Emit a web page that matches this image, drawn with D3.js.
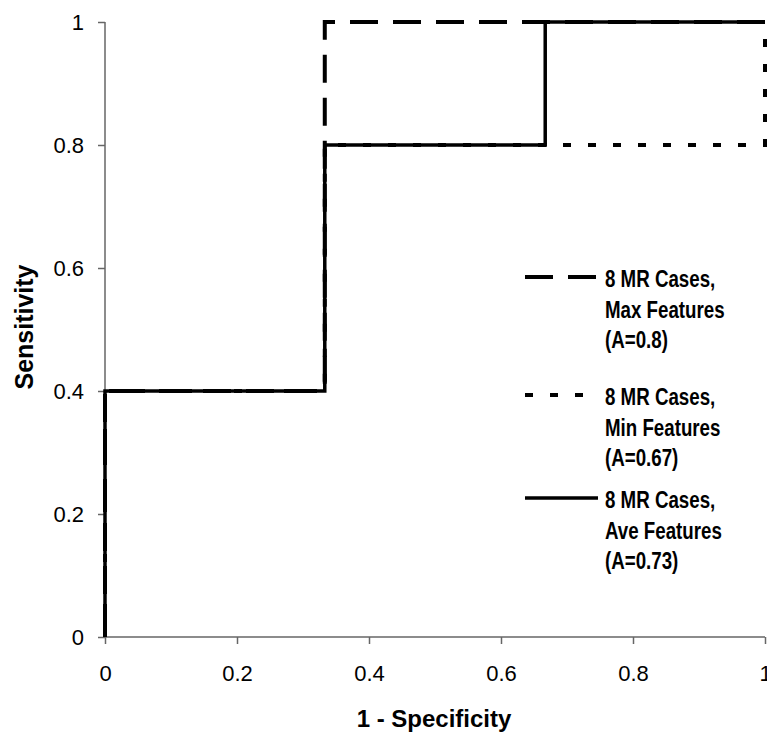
<!doctype html>
<html>
<head>
<meta charset="UTF-8">
<title>ROC</title>
<style>
	body { margin: 0; background: #fff; }
	#container { font-size: 0; }
</style>
</head>
<body>
<div id="container"></div>
<script src="https://cdn.jsdelivr.net/npm/d3@7"></script>
<script>
	var w = 767;
	var h = 735;

	// data
	var xTicks = [0, 0.2, 0.4, 0.6, 0.8, 1];
	var yTicks = [0, 0.2, 0.4, 0.6, 0.8, 1];
	var seriesNames = [
		["8 MR Cases,", "Max Features", "(A=0.8)"],
		["8 MR Cases,", "Min Features", "(A=0.67)"],
		["8 MR Cases,", "Ave Features", "(A=0.73)"]
	];
	var maxFpr = [0, 0, 0.333, 0.333, 1];
	var maxTpr = [0, 0.4, 0.4, 1, 1];
	var minFpr = [0, 0, 0.333, 0.333, 1, 1];
	var minTpr = [0, 0.4, 0.4, 0.8, 0.8, 1];
	var aveFpr = [0, 0, 0.333, 0.333, 0.667, 0.667, 1];
	var aveTpr = [0, 0.4, 0.4, 0.8, 0.8, 1, 1];

	var series = [
		{ x: maxFpr, y: maxTpr, dash: "28,15", width: 4 },
		{ x: minFpr, y: minTpr, dash: "8,17", width: 4 },
		{ x: aveFpr, y: aveTpr, dash: null, width: 3.5 }
	];

	var xScale = d3.scaleLinear().domain([0, 1]).range([105, 765]);
	var yScale = d3.scaleLinear().domain([0, 1]).range([637, 22]);

	var svg = d3.select("#container")
			.append("svg")
			.attr("width", w)
			.attr("height", h);

	// axes
	var xAxis = svg.append("g")
			.attr("transform", "translate(0," + yScale(0) + ")")
			.call(d3.axisBottom(xScale).tickValues(xTicks).tickSize(7).tickPadding(21)
				.tickFormat(function (d) { return String(d); }));
	var yAxis = svg.append("g")
			.attr("transform", "translate(" + xScale(0) + ",0)")
			.call(d3.axisLeft(yScale).tickValues(yTicks).tickSize(7).tickPadding(14)
				.tickFormat(function (d) { return String(d); }));

	[xAxis, yAxis].forEach(function (g) {
		g.select(".domain").attr("stroke", "#666").attr("stroke-width", 1.5);
		g.selectAll(".tick line").attr("stroke", "#666").attr("stroke-width", 1.5);
		g.selectAll(".tick text")
			.attr("font-family", "'Liberation Sans', Arial, sans-serif")
			.attr("font-size", 22)
			.attr("fill", "#000");
	});
	// no end caps on the domain lines
	xAxis.select(".domain").attr("d", "M" + xScale(0) + ",0H" + xScale(1));
	yAxis.select(".domain").attr("d", "M0," + yScale(0) + "V" + yScale(1));

	// lines
	var line = d3.line()
			.x(function (d) { return xScale(d[0]); })
			.y(function (d) { return yScale(d[1]); });

	// solid drawn last so it covers the shared parts
	[1, 0, 2].forEach(function (i) {
		var s = series[i];
		var pts = s.x.map(function (v, j) { return [v, s.y[j]]; });
		svg.append("path")
			.attr("d", line(pts))
			.attr("fill", "none")
			.attr("stroke", "#000")
			.attr("stroke-width", s.width)
			.attr("stroke-dasharray", s.dash);
	});

	// legend
	var legendY = [277, 395, 498];
	var legend = svg.selectAll(".legend")
			.data(series)
			.enter()
			.append("g")
			.attr("transform", function (d, i) { return "translate(525," + legendY[i] + ")"; });
	legend.append("line")
			.attr("x1", 0).attr("x2", 73)
			.attr("stroke", "#000")
			.attr("stroke-width", function (d) { return d.width; })
			.attr("stroke-dasharray", function (d) { return d.dash; });
	legend.each(function (d, i) {
		d3.select(this).selectAll("text")
			.data(seriesNames[i])
			.enter()
			.append("text")
			.attr("transform", function (t, k) { return "translate(80," + (k * 30.5 + 10) + ") scale(0.78,1)"; })
			.attr("font-family", "'Liberation Sans Narrow', 'Arial Narrow', 'Liberation Sans', sans-serif")
			.attr("font-weight", "bold")
			.attr("font-size", 24)
			.text(function (t) { return t; });
	});

	// axis titles
	svg.append("text")
			.attr("x", 434)
			.attr("y", 727)
			.attr("text-anchor", "middle")
			.attr("font-family", "'Liberation Sans', Arial, sans-serif")
			.attr("font-weight", "bold")
			.attr("font-size", 24)
			.text("1 - Specificity");
	svg.append("text")
			.attr("transform", "translate(33,327) rotate(-90)")
			.attr("text-anchor", "middle")
			.attr("font-family", "'Liberation Sans', Arial, sans-serif")
			.attr("font-weight", "bold")
			.attr("font-size", 25)
			.text("Sensitivity");
</script>
</body>
</html>
